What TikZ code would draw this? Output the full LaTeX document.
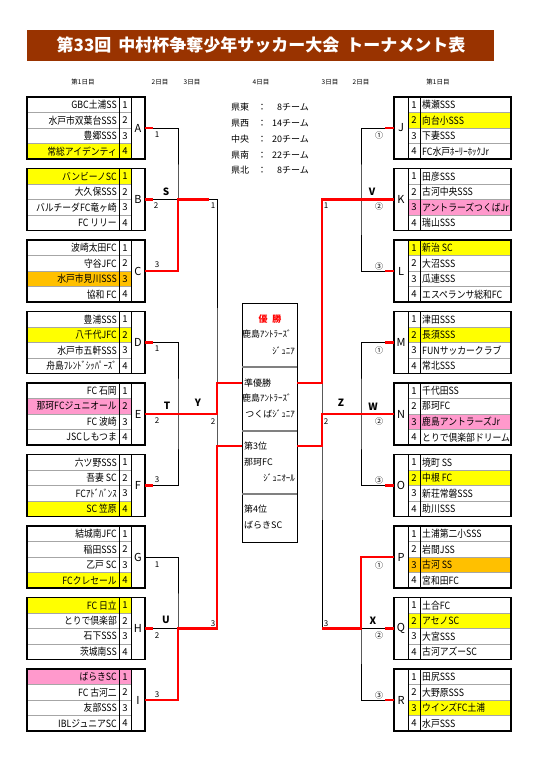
\documentclass[tikz,border=0pt]{standalone}
\usepackage{fontspec}
\setmainfont{Noto Sans CJK JP}
\newfontfamily\namefont{Noto Sans CJK JP}[FakeStretch=0.88]
\usepackage{xcolor}

\definecolor{titlebrown}{RGB}{153,51,0}
\definecolor{hlyellow}{RGB}{255,255,0}
\definecolor{hlpink}{RGB}{255,153,204}
\definecolor{hlorange}{RGB}{255,192,0}

\newcommand{\fsz}[1]{\fontsize{#1}{#1}\selectfont}

% left group: top, letter, 4 names, marked row, colour
\newcommand{\leftgrp}[8]{%
\fill[#8] (27,{#1+15.5*(#7-1)}) rectangle (131,{#1+15.5*#7});
\foreach \rw in {1,2,3} \draw[rowline] (27,{#1+15.5*\rw}) -- (131,{#1+15.5*\rw});
\draw[colline] (119,#1) -- (119,{#1+62});
\draw[colline] (131,#1) -- (131,{#1+62});
\draw[grpbox] (27,#1) rectangle (145,{#1+62});
\node[lname] at (117,{#1+7.75}) {#3};
\node[lname] at (117,{#1+23.25}) {#4};
\node[lname] at (117,{#1+38.75}) {#5};
\node[lname] at (117,{#1+54.25}) {#6};
\foreach \rw in {1,...,4} \node[numcell] at (125,{#1+15.5*\rw-7.75}) {\rw};
\node[grpletter] at (138,{#1+31}) {#2};
\coordinate (#2) at (145,{#1+31});
}

% right group: top, letter, 4 names, marked row, colour
\newcommand{\rightgrp}[8]{%
\fill[#8] (408,{#1+15.5*(#7-1)}) rectangle (511,{#1+15.5*#7});
\foreach \rw in {1,2,3} \draw[rowline] (408,{#1+15.5*\rw}) -- (511,{#1+15.5*\rw});
\draw[colline] (408,#1) -- (408,{#1+62});
\draw[colline] (420,#1) -- (420,{#1+62});
\draw[grpbox] (394,#1) rectangle (511,{#1+62});
\node[rname] at (422,{#1+7.75}) {#3};
\node[rname] at (422,{#1+23.25}) {#4};
\node[rname] at (422,{#1+38.75}) {#5};
\node[rname] at (422,{#1+54.25}) {#6};
\foreach \rw in {1,...,4} \node[numcell] at (414,{#1+15.5*\rw-7.75}) {\rw};
\node[grpletter] at (401,{#1+31}) {#2};
\coordinate (#2) at (394,{#1+31});
}

\begin{document}
\begin{tikzpicture}[x=1pt,y=-1pt,
  grpbox/.style={black, line width=1.7pt},
  rowline/.style={gray!70, line width=0.6pt},
  colline/.style={black, line width=0.6pt},
  blkline/.style={black, line width=0.8pt},
  redline/.style={red, line width=2.2pt},
  finrow/.style={gray, line width=1.2pt},
  lname/.style={anchor=east, inner sep=0pt, font=\namefont\fsz{10}},
  rname/.style={anchor=west, inner sep=0pt, font=\namefont\fsz{10}},
  numcell/.style={inner sep=0pt, font=\fsz{9.5}},
  grpletter/.style={inner sep=0pt, font=\fsz{11}},
  matchlbl/.style={inner sep=0pt, font=\bfseries\fsz{10}},
  seedlbl/.style={inner sep=0pt, font=\fsz{8}},
  daylbl/.style={inner sep=0pt, font=\fsz{6.5}},
  finlbl/.style={inner sep=0pt, font=\fsz{9}}]

\fill[white] (0,0) rectangle (540,764);
\useasboundingbox (0,0) rectangle (540,764);

% title
\fill[titlebrown] (27,30) rectangle (494,61);
\node[white, font=\bfseries\fsz{17}] (title) at (261,45.5) {第33回\hspace{7pt}中村杯争奪少年サッカー大会\hspace{7pt}トーナメント表};

% days
{
\node[daylbl] at (83,82) {第1日目};
\node[daylbl] at (160,82) {2日目};
\node[daylbl] at (192,82) {3日目};
\node[daylbl] at (261,82) {4日目};
\node[daylbl] at (330,82) {3日目};
\node[daylbl] at (361,82) {2日目};
\node[daylbl] at (438,82) {第1日目};
}

% left groups
\leftgrp{97}{A}{GBC土浦SS}{水戸市双葉台SSS}{豊郷SSS}{常総アイデンティ}{4}{hlyellow}
\leftgrp{168.5}{B}{バンビーノSC}{大久保SSS}{バルチーダFC竜ヶ崎}{FC リリー}{1}{hlyellow}
\leftgrp{240}{C}{波崎太田FC}{守谷JFC}{水戸市見川SSS}{協和 FC}{3}{hlorange}
\leftgrp{311.5}{D}{豊浦SSS}{八千代JFC}{水戸市五軒SSS}{舟島ﾌﾚﾝﾄﾞｼｯﾊﾟｰｽﾞ}{2}{hlyellow}
\leftgrp{383}{E}{FC 石岡}{那珂FCジュニオール}{FC 波崎}{JSCしもつま}{2}{hlpink}
\leftgrp{454.5}{F}{六ツ野SSS}{吾妻 SC}{FCｱﾄﾞﾊﾞﾝｽ}{SC 笠原}{4}{hlyellow}
\leftgrp{526}{G}{結城南JFC}{稲田SSS}{乙戸 SC}{FCクレセール}{4}{hlyellow}
\leftgrp{597.5}{H}{FC 日立}{とりで倶楽部}{石下SSS}{茨城南SS}{1}{hlyellow}
\leftgrp{669}{I}{ばらきSC}{FC 古河二}{友部SSS}{IBLジュニアSC}{1}{hlpink}

% right groups
\rightgrp{97}{J}{横瀬SSS}{向台小SSS}{下妻SSS}{FC水戸ﾎｰﾘｰﾎｯｸJr}{2}{hlyellow}
\rightgrp{168.5}{K}{田彦SSS}{古河中央SSS}{アントラーズつくばJr}{瑞山SSS}{3}{hlpink}
\rightgrp{240}{L}{新治 SC}{大沼SSS}{瓜連SSS}{エスペランサ総和FC}{1}{hlyellow}
\rightgrp{311.5}{M}{津田SSS}{長須SSS}{FUNサッカークラブ}{常北SSS}{2}{hlyellow}
\rightgrp{383}{N}{千代田SS}{那珂FC}{鹿島アントラーズJr}{とりで倶楽部ドリーム}{3}{hlpink}
\rightgrp{454.5}{O}{境町 SS}{中根 FC}{新荘常磐SSS}{助川SSS}{2}{hlyellow}
\rightgrp{526}{P}{土浦第二小SSS}{岩間JSS}{古河 SS}{宮和田FC}{3}{hlorange}
\rightgrp{597.5}{Q}{土合FC}{アセノSC}{大宮SSS}{古河アズーSC}{2}{hlyellow}
\rightgrp{669}{R}{田尻SSS}{大野原SSS}{ウインズFC土浦}{水戸SSS}{3}{hlyellow}

% match points
\coordinate (S) at (178,199.5);
\coordinate (T) at (178,414);
\coordinate (U) at (178,628.5);
\coordinate (Y) at (217,414);
\coordinate (V) at (361,199.5);
\coordinate (W) at (361,414);
\coordinate (X) at (361,628.5);
\coordinate (Z) at (322,414);

% final box
{
\draw[black, line width=0.8pt] (242,303) rectangle (297,542);
\draw[finrow] (242,367) -- (297,367);
\draw[finrow] (242,431) -- (297,431);
\draw[finrow] (242,494) -- (297,494);
\coordinate (fin2L) at (242,383);
\coordinate (fin3L) at (242,446);
\coordinate (fin2R) at (297,383);
\coordinate (fin3R) at (297,446);

\node[finlbl, red, font=\bfseries\fsz{9}] at (270,319) {優\hspace{5pt}勝};
\node[finlbl, anchor=west] at (242,334) {鹿島ｱﾝﾄﾗｰｽﾞ};
\node[finlbl, anchor=east] at (295,351) {ｼﾞｭﾆｱ};
\node[finlbl, anchor=west] at (244,383) {準優勝};
\node[finlbl, anchor=west] at (242,398) {鹿島ｱﾝﾄﾗｰｽﾞ};
\node[finlbl, anchor=east] at (295,414) {つくばｼﾞｭﾆｱ};
\node[finlbl, anchor=west] at (244,446) {第3位};
\node[finlbl, anchor=west] at (244,462) {那珂FC};
\node[finlbl, anchor=east] at (295,478) {ｼﾞｭﾆｵｰﾙ};
\node[finlbl, anchor=west] at (244,509) {第4位};
\node[finlbl, anchor=west] at (244,525) {ばらきSC};
}

% entries per area
{
\node[finlbl, anchor=west] at (231,107) {県東};
\node[finlbl, anchor=west] at (231,123) {県西};
\node[finlbl, anchor=west] at (231,139) {中央};
\node[finlbl, anchor=west] at (231,155) {県南};
\node[finlbl, anchor=west] at (231,170) {県北};
\foreach \yy in {107,123,139,155,170} \node[finlbl] at (262,\yy) {：};
\node[finlbl, anchor=east] at (309,107) {8チーム};
\node[finlbl, anchor=east] at (309,123) {14チーム};
\node[finlbl, anchor=east] at (309,139) {20チーム};
\node[finlbl, anchor=east] at (309,155) {22チーム};
\node[finlbl, anchor=east] at (309,170) {8チーム};
}

% black lines
{
\draw[blkline] (A) -| (S) |- (C);
\draw[blkline] (B) -- (S);
\draw[blkline] (D) -| (T) |- (F);
\draw[blkline] (E) -- (T);
\draw[blkline] (G) -| (U) |- (I);
\draw[blkline] (H) -- (U);
\draw[blkline] (S) -| (Y) |- (U);
\draw[blkline] (T) -- (Y);

\draw[blkline] (J) -| (V) |- (L);
\draw[blkline] (K) -- (V);
\draw[blkline] (M) -| (W) |- (O);
\draw[blkline] (N) -- (W);
\draw[blkline] (P) -| (X) |- (R);
\draw[blkline] (Q) -- (X);
\draw[blkline] (V) -| (Z) |- (X);
\draw[blkline] (W) -- (Z);
}

% red lines
{
\foreach \g in {A,B,D,F,H} \draw[redline] (\g) -- ++(8,0);
\foreach \g in {J,L,M,O,Q,R} \draw[redline] (\g) -- ++(-9,0);

\draw[redline] (C) -| (S) -- ++(31,0);
\draw[redline] (E) -- (Y) |- (fin2L);
\draw[redline] (I) -| (U) -- (217,628.5) |- (fin3L);

\draw[redline] (K) -- (322,199.5) |- (fin2R);
\draw[redline] (N) -- (Z) |- (fin3R);
\draw[redline] (P) -| (X) -- (322,628.5);
}

% labellings
{
\node[matchlbl] at (166,192) {S};
\node[matchlbl] at (167,406) {T};
\node[matchlbl] at (166,620) {U};
\node[matchlbl] at (198,403) {Y};
\node[matchlbl] at (372,192) {V};
\node[matchlbl] at (373,407) {W};
\node[matchlbl] at (373,621) {X};
\node[matchlbl] at (341,403) {Z};

\node[seedlbl] at (157,135) {1};
\node[seedlbl] at (156,206) {2};
\node[seedlbl] at (157,265) {3};
\node[seedlbl] at (157,349) {1};
\node[seedlbl] at (157,421) {2};
\node[seedlbl] at (157,480) {3};
\node[seedlbl] at (157,565) {1};
\node[seedlbl] at (157,636) {2};
\node[seedlbl] at (157,695) {3};

\node[seedlbl] at (213,206) {1};
\node[seedlbl] at (213,422) {2};
\node[seedlbl] at (213,624) {3};
\node[seedlbl] at (326,206) {1};
\node[seedlbl] at (326,422) {2};
\node[seedlbl] at (326,624) {3};

\node[seedlbl] at (379,135) {①};
\node[seedlbl] at (379,206) {②};
\node[seedlbl] at (379,266) {③};
\node[seedlbl] at (379,350) {①};
\node[seedlbl] at (379,421) {②};
\node[seedlbl] at (379,480) {③};
\node[seedlbl] at (379,565) {①};
\node[seedlbl] at (379,635) {②};
\node[seedlbl] at (379,695) {③};
}
\end{tikzpicture}
\end{document}
